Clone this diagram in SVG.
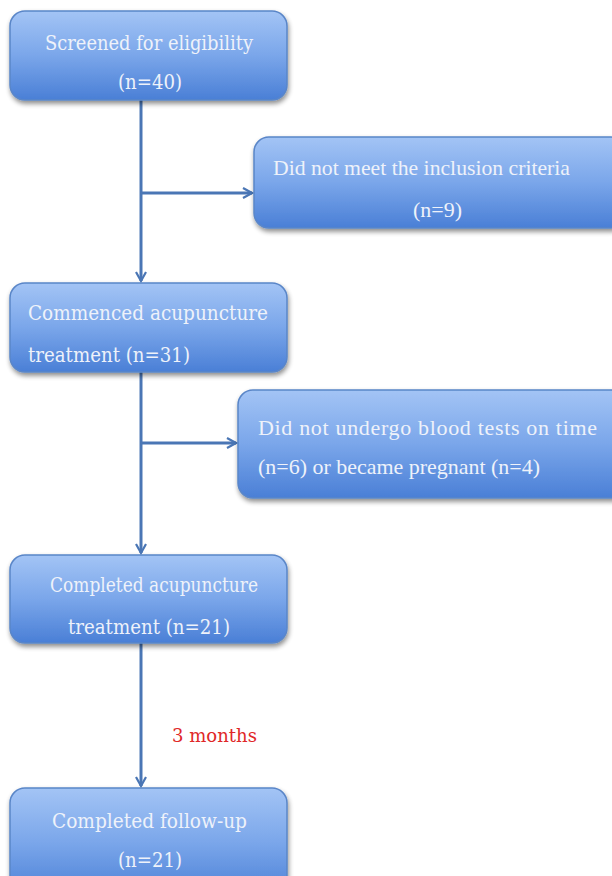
<svg xmlns="http://www.w3.org/2000/svg" width="612" height="876" viewBox="0 0 612 876">
<defs>
<linearGradient id="g" x1="0" y1="0" x2="0" y2="1">
<stop offset="0" stop-color="#a3c4f5"/>
<stop offset="0.5" stop-color="#7aa6ea"/>
<stop offset="1" stop-color="#4a7fd6"/>
</linearGradient>
<filter id="sh" x="-10%" y="-10%" width="125%" height="135%">
<feGaussianBlur in="SourceAlpha" stdDeviation="2.5"/>
<feOffset dx="1" dy="3" result="b"/>
<feComponentTransfer><feFuncA type="linear" slope="0.45"/></feComponentTransfer>
<feMerge><feMergeNode/><feMergeNode in="SourceGraphic"/></feMerge>
</filter>
<marker id="ah" viewBox="0 0 12 12" refX="10" refY="6" markerWidth="12" markerHeight="12" markerUnits="userSpaceOnUse" orient="auto">
<path d="M1,1 L10,6 L1,11" fill="none" stroke="#4a76b5" stroke-width="2.2"/>
</marker>
</defs>
<style>
.box{fill:url(#g);stroke:#5a86c8;stroke-width:1.5;filter:url(#sh)}
.t{font-family:"DejaVu Serif","Liberation Serif",serif;font-size:20px;fill:#eef2fa}
.r{font-family:"Liberation Serif","Times New Roman",serif;font-size:22px;fill:#eef2fa}
.ln{stroke:#4a76b5;stroke-width:3;fill:none}
.red{font-family:"DejaVu Serif","Liberation Serif",serif;font-size:19px;fill:#e02828}
</style>
<rect width="612" height="876" fill="#ffffff"/>
<g id="connectors">
<line class="ln" x1="141" y1="100" x2="141" y2="281" marker-end="url(#ah)"/>
<line class="ln" x1="141" y1="193" x2="252" y2="193" marker-end="url(#ah)"/>
<line class="ln" x1="141" y1="372" x2="141" y2="553" marker-end="url(#ah)"/>
<line class="ln" x1="141" y1="443" x2="236" y2="443" marker-end="url(#ah)"/>
<line class="ln" x1="141" y1="643" x2="141" y2="786" marker-end="url(#ah)"/>
</g>
<g id="n1">
<rect class="box" x="10" y="11" width="277" height="89" rx="15"/>
<text class="t" x="45" y="50" textLength="208" lengthAdjust="spacingAndGlyphs">Screened for eligibility</text>
<text class="t" x="118" y="89" textLength="64" lengthAdjust="spacingAndGlyphs">(n=40)</text>
</g>
<g id="n2">
<rect class="box" x="254" y="137" width="372" height="91" rx="15"/>
<text class="r" x="273" y="175" textLength="297" lengthAdjust="spacingAndGlyphs">Did not meet the inclusion criteria</text>
<text class="r" x="413" y="217" textLength="49" lengthAdjust="spacingAndGlyphs">(n=9)</text>
</g>
<g id="n3">
<rect class="box" x="10" y="283" width="277" height="89" rx="15"/>
<text class="t" x="28" y="320" textLength="240" lengthAdjust="spacingAndGlyphs">Commenced acupuncture</text>
<text class="t" x="28" y="362" textLength="162" lengthAdjust="spacingAndGlyphs">treatment (n=31)</text>
</g>
<g id="n4">
<rect class="box" x="238" y="390" width="390" height="108" rx="15"/>
<text class="r" x="258" y="435" textLength="339">Did not undergo blood tests on time</text>
<text class="r" x="258" y="474" textLength="282" lengthAdjust="spacingAndGlyphs">(n=6) or became pregnant (n=4)</text>
</g>
<g id="n5">
<rect class="box" x="10" y="555" width="277" height="88" rx="15"/>
<text class="t" x="50" y="592" textLength="208" lengthAdjust="spacingAndGlyphs">Completed acupuncture</text>
<text class="t" x="68" y="634" textLength="162" lengthAdjust="spacingAndGlyphs">treatment (n=21)</text>
</g>
<g id="n6">
<rect class="box" x="10" y="788" width="277" height="110" rx="15"/>
<text class="t" x="52" y="828" textLength="195" lengthAdjust="spacingAndGlyphs">Completed follow-up</text>
<text class="t" x="118" y="867" textLength="64" lengthAdjust="spacingAndGlyphs">(n=21)</text>
</g>
<text class="red" x="172" y="742" textLength="85" lengthAdjust="spacingAndGlyphs">3 months</text>
</svg>
